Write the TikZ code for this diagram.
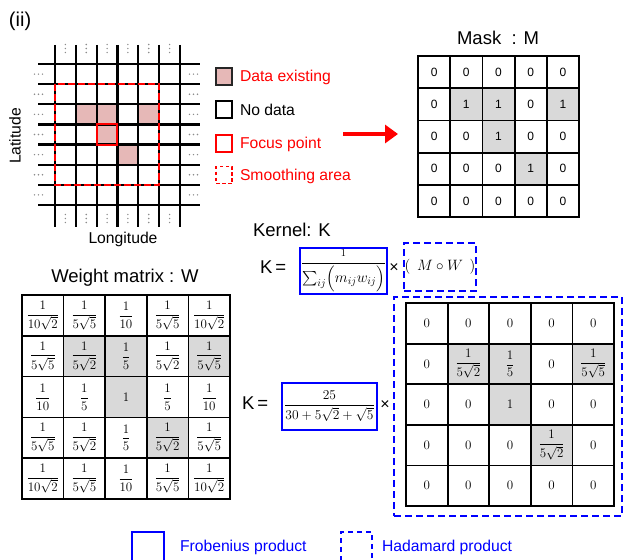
\RequirePackage{fix-cm}
\documentclass[tikz,border=0pt]{standalone}
\usepackage{amsmath}
\usepackage{fontspec}
\setmainfont{Liberation Sans}
\usetikzlibrary{arrows.meta}

\definecolor{datapink}{RGB}{230,184,183}
\definecolor{cellgray}{RGB}{217,217,217}
\definecolor{hotred}{RGB}{255,0,0}
\definecolor{prodblue}{RGB}{0,0,255}
\definecolor{dotgray}{RGB}{140,140,140}

% weight entries
\newcommand{\wtenrttwo}{$\dfrac{1}{10\sqrt{2}}$}
\newcommand{\wfivertfive}{$\dfrac{1}{5\sqrt{5}}$}
\newcommand{\wfivertwo}{$\dfrac{1}{5\sqrt{2}}$}
\newcommand{\wtenth}{$\dfrac{1}{10}$}
\newcommand{\wfifth}{$\dfrac{1}{5}$}
\newcommand{\wunit}{$1$}
\newcommand{\kzero}{$0$}

% five-by-five table frame: left, top, cell width, cell height
\newcommand{\tableframe}[5]{%
  \foreach \i in {0,...,5} {
    \draw[#5] (#1,{#2+\i*#4}) -- ({#1+5*#3},{#2+\i*#4});
    \draw[#5] ({#1+\i*#3},#2) -- ({#1+\i*#3},{#2+5*#4});
  }}

\begin{document}
\begin{tikzpicture}[x=1pt,y=-1pt,
  every node/.style={inner sep=0pt, outer sep=0pt},
  title/.style={font=\fontsize{18.5}{22}\selectfont},
  keytext/.style={font=\fontsize{15.7}{19}\selectfont, anchor=west},
  gridline/.style={line width=2.2pt, black},
  tableline/.style={line width=1.8pt, black, line cap=rect},
  keybox/.style={draw, line width=1.6pt, minimum width=16pt, minimum height=17pt},
  masktext/.style={font=\fontsize{12}{14}\selectfont},
  mathtext/.style={font=\fontsize{13}{15}\selectfont},
  frobbox/.style={draw=prodblue, line width=2.2pt},
  hadabox/.style={draw=prodblue, line width=2.2pt, dash pattern=on 7pt off 4pt},
]
\useasboundingbox (0,0) rectangle (628,559);

% panel label
\node[font=\fontsize{20}{24}\selectfont, anchor=west] (panel) at (9,21) {(ii)};

% ---------- latitude/longitude grid ----------
\foreach \r/\c in {3/2,3/3,3/5,4/3,5/4}
  \fill[datapink] ({55+(\c-1)*20.83},{64+(\r-1)*20.14}) rectangle ++(20.83,20.14);
\foreach \i in {0,...,7}
  \draw[gridline] (38,{64+\i*20.14}) -- (200,{64+\i*20.14});
\foreach \j in {0,...,6}
  \draw[gridline] ({55+\j*20.83},45) -- ({55+\j*20.83},227);
% continuation dots
\foreach \i in {1,...,7} {
  \foreach \d in {-4,0,4} {
    \fill[dotgray] ({38.5+\d},{64+(\i-0.5)*20.14}) circle (0.8);
    \fill[dotgray] ({193.5+\d},{64+(\i-0.5)*20.14}) circle (0.8);
  }
}
\foreach \j in {1,...,6} {
  \foreach \d in {-4,0,4} {
    \fill[dotgray] ({55+(\j-0.5)*20.83},{48.5+\d}) circle (0.8);
    \fill[dotgray] ({55+(\j-0.5)*20.83},{218.5+\d}) circle (0.8);
  }
}
% focus point and smoothing area
\draw[hotred, line width=2pt] ({55+2*20.83},{64+3*20.14}) rectangle ++(20.83,20.14);
\draw[hotred, line width=2pt, dash pattern=on 7pt off 3pt]
  (55,{64+20.14}) rectangle ({55+5*20.83},{64+6*20.14});

\node[font=\fontsize{15.7}{19}\selectfont, rotate=90] (lat) at (15,136) {Latitude};
\node[font=\fontsize{15.7}{19}\selectfont] (lon) at (123,239) {Longitude};

% ---------- legend ----------
\node[keybox, fill=datapink, draw=black!85] (key-data) at (224,76.5) {};
\node[keytext, text=hotred] (key-data-t) at (240,77) {Data existing};
\node[keybox, fill=white, draw=black] (key-none) at (224,109.5) {};
\node[keytext] (key-none-t) at (240,110) {No data};
\node[keybox, draw=hotred] (key-focus) at (224,143.5) {};
\node[keytext, text=hotred] (key-focus-t) at (240,144) {Focus point};
\node[keybox, draw=hotred, dash pattern=on 3.5pt off 2.5pt] (key-smooth) at (224,175) {};
\node[keytext, text=hotred] (key-smooth-t) at (240,176) {Smoothing area};

% arrow towards the mask
\coordinate (arrowtail) at (343,134);
\coordinate (arrowtip) at (398,134);
\draw[hotred, line width=4pt, -{Triangle[length=13pt,width=18pt]}] (arrowtail) -- (arrowtip);

% ---------- mask M ----------
\node[title] (mask-title) at (498,38) {Mask\ \ : M};
\foreach \r/\c in {2/2,2/3,2/5,3/3,4/4}
  \fill[cellgray] ({418+(\c-1)*32.2},{56+(\r-1)*32.2}) rectangle ++(32.2,32.2);
\tableframe{418}{56}{32.2}{32.2}{tableline}
\foreach \vals [count=\r] in {{0,0,0,0,0},{0,1,1,0,1},{0,0,1,0,0},{0,0,0,1,0},{0,0,0,0,0}} {
  \foreach \v [count=\c] in \vals
    \node[masktext] (mask-\r-\c) at ({418+(\c-0.5)*32.2},{56+(\r-0.5)*32.2}) {\v};
}

% ---------- kernel definition ----------
\node[title, anchor=west] (kernel-title) at (253,230) {Kernel: K};
\node[title, anchor=west] (keq-a) at (260,267) {K\,=};
\node[frobbox, minimum width=87pt, minimum height=46pt, font=\fontsize{15}{18}\selectfont]
  (frob-a) at (343.5,271) {$\displaystyle\frac{\scriptstyle 1}{\textstyle\sum_{ij}\Bigl(m_{ij}w_{ij}\Bigr)}$};
\node[font=\fontsize{16}{19}\selectfont] (times-a) at (394,268) {×};
\node[hadabox, minimum width=72pt, minimum height=48pt, font=\fontsize{15}{18}\selectfont]
  (hada-a) at (440,267) {$(\;\,M\circ W\;\,)$};

% ---------- weight matrix W ----------
\node[title] (w-title) at (125,278) {Weight matrix : W};
\foreach \r/\c in {2/2,2/3,2/5,3/3,4/4}
  \fill[cellgray] ({22+(\c-1)*41.6},{295+(\r-1)*40.8}) rectangle ++(41.6,40.8);
\tableframe{22}{295}{41.6}{40.8}{tableline, line width=1.6pt}
\foreach \vals [count=\r] in {
  {\wtenrttwo,\wfivertfive,\wtenth,\wfivertfive,\wtenrttwo},
  {\wfivertfive,\wfivertwo,\wfifth,\wfivertwo,\wfivertfive},
  {\wtenth,\wfifth,\wunit,\wfifth,\wtenth},
  {\wfivertfive,\wfivertwo,\wfifth,\wfivertwo,\wfivertfive},
  {\wtenrttwo,\wfivertfive,\wtenth,\wfivertfive,\wtenrttwo}} {
  \foreach \v [count=\c] in \vals
    \node[mathtext] (w-\r-\c) at ({22+(\c-0.5)*41.6},{295+(\r-0.5)*40.8}) {\v};
}

% ---------- evaluated kernel ----------
\node[title, anchor=west] (keq-b) at (242,403) {K\,=};
\node[frobbox, minimum width=95pt, minimum height=47pt, font=\fontsize{13.5}{16}\selectfont]
  (frob-b) at (329.5,406.5) {$\dfrac{25}{30+5\sqrt{2}+\sqrt{5}}$};
\node[font=\fontsize{16}{19}\selectfont] (times-b) at (385,405) {×};
\node[hadabox, minimum width=228pt, minimum height=219pt] (hada-b) at (508,406.5) {};
\foreach \r/\c in {2/2,2/3,2/5,3/3,4/4}
  \fill[cellgray] ({406+(\c-1)*41.6},{303+(\r-1)*40.6}) rectangle ++(41.6,40.6);
\tableframe{406}{303}{41.6}{40.6}{tableline}
\foreach \vals [count=\r] in {
  {\kzero,\kzero,\kzero,\kzero,\kzero},
  {\kzero,\wfivertwo,\wfifth,\kzero,\wfivertfive},
  {\kzero,\kzero,\wunit,\kzero,\kzero},
  {\kzero,\kzero,\kzero,\wfivertwo,\kzero},
  {\kzero,\kzero,\kzero,\kzero,\kzero}} {
  \foreach \v [count=\c] in \vals
    \node[mathtext] (k-\r-\c) at ({406+(\c-0.5)*41.6},{303+(\r-0.5)*40.6}) {\v};
}

% ---------- product legend ----------
\node[frobbox, minimum width=32pt, minimum height=40pt, anchor=north west] (key-frob) at (132,532) {};
\node[keytext, text=prodblue] (key-frob-t) at (180,547) {Frobenius product};
\node[hadabox, dash pattern=on 5pt off 4pt, minimum width=31pt, minimum height=40pt, anchor=north west]
  (key-hada) at (341,532) {};
\node[keytext, text=prodblue] (key-hada-t) at (382,547) {Hadamard product};
\end{tikzpicture}
\end{document}
